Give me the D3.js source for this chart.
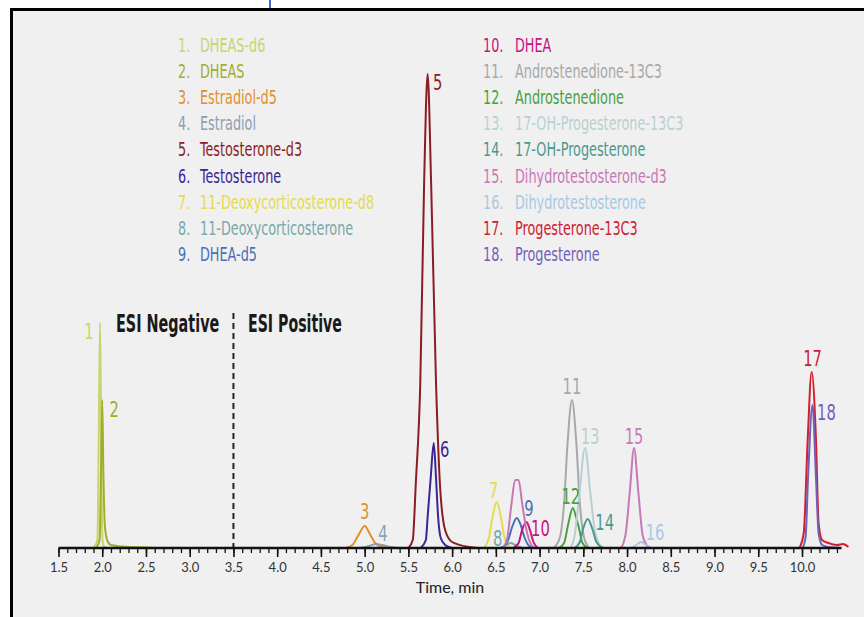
<!DOCTYPE html>
<html>
<head>
<meta charset="utf-8">
<script src="https://cdn.jsdelivr.net/npm/d3@7"></script>
<style>
  html, body { margin: 0; padding: 0; background: #fff; }
  svg { display: block; }
  .cond { font-family: "Liberation Sans Narrow", "DejaVu Sans Condensed", "DejaVu Sans", sans-serif; }
  .tick text { font-family: Lato, "Open Sans", sans-serif; font-size: 13px; fill: #333; }
</style>
</head>
<body>
<div id="chart"></div>
<script>
'use strict'

// compound names, in peak-number order
const compoundNames = [
  'DHEAS-d6', 'DHEAS', 'Estradiol-d5', 'Estradiol', 'Testosterone-d3',
  'Testosterone', '11-Deoxycorticosterone-d8', '11-Deoxycorticosterone', 'DHEA-d5',
  'DHEA', 'Androstenedione-13C3', 'Androstenedione', '17-OH-Progesterone-13C3',
  '17-OH-Progesterone', 'Dihydrotestosterone-d3', 'Dihydrotestosterone',
  'Progesterone-13C3', 'Progesterone'
];

const compoundColors = [
  '#c6d66e', '#a2ad2e', '#e0902e', '#8aa0b4', '#8c1c24', '#3c2494',
  '#e6da4e', '#78a8a8', '#4870b4', '#c81480', '#a8a8a8', '#48a040',
  '#b8d0d0', '#4a9890', '#c878b8', '#a8c8e4', '#d02030', '#7060b8'
];

// traces: [time (min), intensity]
const dheasD6 = [[1.90,0],[1.945,8],[1.96,110],[1.975,225],[1.988,110],[1.998,20],[2.01,3],[2.05,0]];
const dheas = [[1.93,0],[1.97,8],[1.985,70],[2.0,148],[2.013,75],[2.03,22],[2.06,7],[2.10,3],[2.3,1],[2.5,0.5],[2.6,0]];
const estradiolD5 = [[4.78,0],[4.86,3],[4.93,13],[5.0,22],[5.06,14],[5.12,5],[5.2,1],[5.3,0]];
const estradiol = [[4.95,0],[5.05,2],[5.13,4],[5.2,3],[5.3,1],[5.4,0]];
const testosteroneD3 = [[5.50,0],[5.55,8],[5.585,65],[5.636,165],[5.68,365],[5.72,474],[5.76,365],[5.816,165],[5.86,65],[5.92,18],[6.0,6],[6.2,1],[6.3,0]];
const testosterone = [[5.64,0],[5.70,8],[5.72,31],[5.755,70],[5.79,105],[5.816,70],[5.84,31],[5.87,10],[5.92,3],[6.0,0]];
const docD8 = [[6.36,0],[6.42,10],[6.46,30],[6.51,46],[6.56,30],[6.60,10],[6.66,1],[6.70,0]];
const doc = [[6.55,0],[6.62,3],[6.67,5],[6.72,3],[6.80,0]];
const dheaD5 = [[6.58,0],[6.64,8],[6.69,22],[6.74,30],[6.78,24],[6.83,10],[6.88,2],[6.93,0]];
const dhea = [[6.70,0],[6.76,5],[6.80,18],[6.85,26],[6.89,18],[6.93,6],[6.98,0]];
const androD13C3 = [[7.16,0],[7.23,10],[7.28,45],[7.32,105],[7.37,148],[7.42,105],[7.46,45],[7.51,10],[7.57,0]];
const andro = [[7.22,0],[7.28,5],[7.33,25],[7.38,40],[7.42,30],[7.45,20],[7.49,5],[7.55,0]];
const ohpD13C3 = [[7.35,0],[7.40,12],[7.45,50],[7.52,100],[7.58,55],[7.63,18],[7.69,3],[7.74,0]];
const ohp = [[7.40,0],[7.46,6],[7.50,20],[7.55,29],[7.60,20],[7.65,6],[7.72,0]];
const dhtD3 = [[6.58,0],[6.63,10],[6.68,45],[6.72,68],[6.76,68],[6.80,45],[6.85,18],[6.90,4],[6.95,0],
               [7.92,0],[7.98,12],[8.03,55],[8.08,100],[8.13,55],[8.18,12],[8.25,0]];
const dht = [[8.05,0],[8.12,4],[8.16,6],[8.20,4],[8.28,0]];
const progD13C3 = [[9.97,0],[10.02,15],[10.065,108],[10.11,176],[10.16,108],[10.19,25],[10.23,8],[10.30,5],[10.40,3],[10.47,4],[10.53,1]];
const prog = [[9.05,0],[10.0,0],[10.04,10],[10.07,72],[10.12,143],[10.16,70],[10.19,15],[10.23,3],[10.3,1],[10.45,0]];

const traces = [dheasD6, dheas, estradiolD5, estradiol, testosteroneD3, testosterone,
  docD8, doc, dheaD5, dhea, androD13C3, andro, ohpD13C3, ohp, dhtD3, dht, progD13C3, prog];

const majorTicks = [1.5, 2.0, 2.5, 3.0, 3.5, 4.0, 4.5, 5.0, 5.5, 6.0, 6.5, 7.0, 7.5, 8.0, 8.5, 9.0, 9.5, 10.0];
const modeSplit = 3.5;

// label offsets from each peak apex (px): dx, dy to baseline
const labelOffsets = [[-11,16],[12,17],[0,-7],[7,-3],[10,16],[11,14],[-3,-4],[-13,3],[12,-2],
  [14,14],[0,-6],[-2,-4],[5,-4],[17,11],[0,-4],[14,-2],[1,-6],[14,15]];

const W = 864, H = 617;
const svg = d3.select('#chart').append('svg').attr('width', W).attr('height', H);

// frame
svg.append('rect').attr('x', 11.5).attr('y', 9.5).attr('width', 900).attr('height', 700)
  .attr('fill', '#f0f0f0').attr('stroke', '#000').attr('stroke-width', 3);
svg.append('line').attr('x1', 270).attr('x2', 270).attr('y1', 0).attr('y2', 8)
  .attr('stroke', '#3a6cc8').attr('stroke-width', 2);

const x = d3.scaleLinear().domain([1.5, 10.45]).range([58.5, 58.5 + 8.95 * 87.47]);
const y = d3.scaleLinear().domain([0, 500]).range([548, 48]);

function condText(g, str, px, py, size, sx, color, weight, anchor) {
  return g.append('text').attr('class', 'cond')
    .attr('transform', `translate(${px},${py}) scale(${sx},1)`)
    .attr('font-size', size).attr('font-weight', weight || 'normal')
    .attr('text-anchor', anchor || 'start')
    .attr('fill', color).text(str);
}

// legend
const legend = svg.append('g');
compoundNames.forEach((name, i) => {
  const col = i < 9 ? 0 : 1;
  const row = i % 9;
  const ly = 52 + row * 26.1;
  const nx = col === 0 ? 178 : 483;
  const tx = col === 0 ? 200 : 515;
  condText(legend, (i + 1) + '.', nx, ly, 19, 0.75, compoundColors[i]);
  condText(legend, name, tx, ly, 19, 0.75, compoundColors[i]);
});

// ESI split
svg.append('line').attr('x1', x(modeSplit)).attr('x2', x(modeSplit))
  .attr('y1', 313).attr('y2', y(0))
  .attr('stroke', '#222').attr('stroke-width', 2).attr('stroke-dasharray', '6,4');
condText(svg, 'ESI Negative', 116, 332, 25, 0.64, '#1a1a1a', 'bold');
condText(svg, 'ESI Positive', 248, 332, 25, 0.63, '#1a1a1a', 'bold');

// traces
const line = d3.line().x(d => x(d[0])).y(d => y(d[1])).curve(d3.curveMonotoneX);
const plot = svg.append('g');
traces.forEach((tr, i) => {
  plot.append('path').datum(tr).attr('d', line)
    .attr('fill', 'none').attr('stroke', compoundColors[i])
    .attr('stroke-width', 2).attr('stroke-linejoin', 'round');
});

// x axis
const minorTicks = d3.range(15, 105).map(v => v / 10);
const axisG = svg.append('g').attr('transform', `translate(0,${y(0)})`);
axisG.call(d3.axisBottom(x).tickValues(minorTicks).tickSize(5).tickFormat(''))
axisG.select('.domain').remove();
axisG.selectAll('.tick line').attr('stroke', '#111').attr('stroke-width', 1.3);
const majorG = svg.append('g').attr('transform', `translate(0,${y(0)})`);
majorG.call(d3.axisBottom(x).tickValues(majorTicks).tickSize(9).tickPadding(6).tickFormat(d3.format('.1f')));
majorG.select('.domain').attr('stroke', '#111').attr('stroke-width', 2.5).attr('d', `M${x(1.5)},0H${x(10.45)}`);
majorG.selectAll('.tick line').attr('stroke', '#111').attr('stroke-width', 1.6);

svg.append('text').attr('x', 450).attr('y', 593).attr('text-anchor', 'middle')
  .attr('font-family', 'Lato, "Open Sans", sans-serif').attr('font-size', 16).attr('fill', '#222')
  .text('Time, min');

// peak labels
traces.forEach((tr, i) => {
  const apex = tr.reduce((a, b) => (b[1] > a[1] ? b : a));
  const off = labelOffsets[i];
  condText(svg, String(i + 1), x(apex[0]) + off[0], y(apex[1]) + off[1], 21, 0.78, compoundColors[i], 'normal', 'middle');
});
</script>
</body>
</html>
